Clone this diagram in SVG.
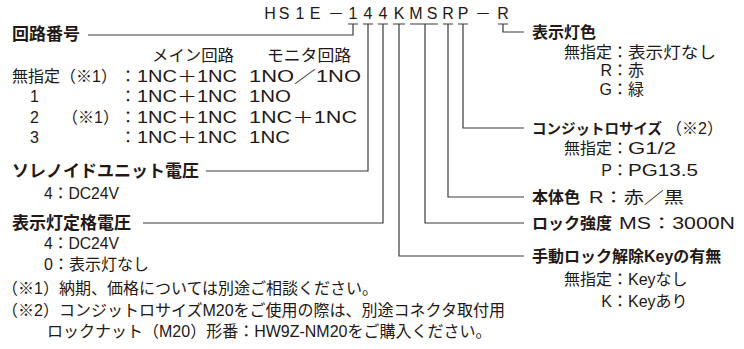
<svg xmlns="http://www.w3.org/2000/svg" width="744" height="349" viewBox="0 0 744 349">
<style>
.t{font-family:"Liberation Sans","Noto Sans CJK JP",sans-serif;font-size:16px;fill:#231815}
.b{font-weight:bold}
.l{font-size:17px}
.e{text-anchor:end}
.c{stroke:#3a3a3a;stroke-width:1.2;fill:none}
</style>
<rect width="744" height="349" fill="#ffffff"/>
<g id="model">
<text class="t" text-anchor="middle" x="270 284 300 315 336 353 368 383 399 416 432 448 463 483 503" y="19">HS1E－144KMSRP－R</text>
</g>
<g id="connectors">
<path class="c" d="M348 24H358M363 24H373M378 24H388M393 24H405M410 24H438M443 24H453M458 24H468M498 24H508"/>
<path class="c" d="M353 24V35H88"/>
<path class="c" d="M368 24V171H206"/>
<path class="c" d="M383 24V223H143"/>
<path class="c" d="M399 24V256H524"/>
<path class="c" d="M425 24V223H524"/>
<path class="c" d="M448 24V197H524"/>
<path class="c" d="M463 24V128H524"/>
<path class="c" d="M503 24V32H524"/>
</g>
<g id="circuit">
<text class="t b l" x="12" y="40">回路番号</text>
<text class="t" x="152" y="61" textLength="82" lengthAdjust="spacingAndGlyphs">メイン回路</text>
<text class="t" x="267" y="61" textLength="84" lengthAdjust="spacingAndGlyphs">モニタ回路</text>
<text class="t" x="12" y="82">無指定（※1）</text>
<text class="t" x="120" y="82">：</text>
<text class="t" x="137" y="82" textLength="100" lengthAdjust="spacingAndGlyphs">1NC＋1NC</text>
<text class="t" x="249" y="82" textLength="112" lengthAdjust="spacingAndGlyphs">1NO／1NO</text>
<text class="t" x="30" y="102">1</text>
<text class="t" x="120" y="102">：</text>
<text class="t" x="137" y="102" textLength="100" lengthAdjust="spacingAndGlyphs">1NC＋1NC</text>
<text class="t" x="249" y="102" textLength="42" lengthAdjust="spacingAndGlyphs">1NO</text>
<text class="t" x="30" y="123">2</text>
<text class="t" x="62" y="123">（※1）</text>
<text class="t" x="120" y="123">：</text>
<text class="t" x="137" y="123" textLength="100" lengthAdjust="spacingAndGlyphs">1NC＋1NC</text>
<text class="t" x="249" y="123" textLength="108" lengthAdjust="spacingAndGlyphs">1NC＋1NC</text>
<text class="t" x="30" y="143">3</text>
<text class="t" x="120" y="143">：</text>
<text class="t" x="137" y="143" textLength="100" lengthAdjust="spacingAndGlyphs">1NC＋1NC</text>
<text class="t" x="249" y="143" textLength="41" lengthAdjust="spacingAndGlyphs">1NC</text>
</g>
<g id="solenoid">
<text class="t b l" x="12" y="177">ソレノイドユニット電圧</text>
<text class="t" x="44" y="199" textLength="75" lengthAdjust="spacingAndGlyphs">4：DC24V</text>
</g>
<g id="lampvoltage">
<text class="t b l" x="12" y="229">表示灯定格電圧</text>
<text class="t" x="44" y="249" textLength="75" lengthAdjust="spacingAndGlyphs">4：DC24V</text>
<text class="t" x="44" y="270">0：表示灯なし</text>
</g>
<g id="lampcolor">
<text class="t b" x="532" y="38">表示灯色</text>
<text class="t e" x="612" y="58">無指定</text>
<text class="t" x="612" y="58">：</text>
<text class="t" x="628" y="58" textLength="88" lengthAdjust="spacingAndGlyphs">表示灯なし</text>
<text class="t e" x="612" y="76">R</text>
<text class="t" x="612" y="76">：赤</text>
<text class="t e" x="612" y="95">G</text>
<text class="t" x="612" y="95">：緑</text>
</g>
<g id="conduit">
<text class="t" x="532" y="134"><tspan class="b" font-size="14.5">コンジットロサイズ</tspan><tspan dx="4">（※2）</tspan></text>
<text class="t e" x="612" y="154">無指定</text>
<text class="t" x="612" y="154">：</text>
<text class="t" x="628" y="154" textLength="48" lengthAdjust="spacingAndGlyphs">G1/2</text>
<text class="t e" x="612" y="176">P</text>
<text class="t" x="612" y="176">：</text>
<text class="t" x="628" y="176" textLength="70" lengthAdjust="spacingAndGlyphs">PG13.5</text>
</g>
<g id="bodycolor">
<text class="t b" x="532" y="203">本体色</text>
<text class="t" x="589" y="203" textLength="95" lengthAdjust="spacingAndGlyphs">R：赤／黒</text>
</g>
<g id="lockstrength">
<text class="t b" x="532" y="229">ロック強度</text>
<text class="t" x="619" y="229" textLength="116" lengthAdjust="spacingAndGlyphs">MS：3000N</text>
</g>
<g id="manualkey">
<text class="t b" x="532" y="262">手動ロック解除Keyの有無</text>
<text class="t e" x="612" y="285">無指定</text>
<text class="t" x="612" y="285">：Keyなし</text>
<text class="t e" x="612" y="307">K</text>
<text class="t" x="612" y="307">：Keyあり</text>
</g>
<g id="notes">
<text class="t" x="2" y="294">（※1）納期、価格については別途ご相談ください。</text>
<text class="t" x="2" y="316">（※2）コンジットロサイズM20をご使用の際は、別途コネクタ取付用</text>
<text class="t" x="47" y="337">ロックナット（M20）形番：HW9Z-NM20をご購入ください。</text>
</g>
</svg>
